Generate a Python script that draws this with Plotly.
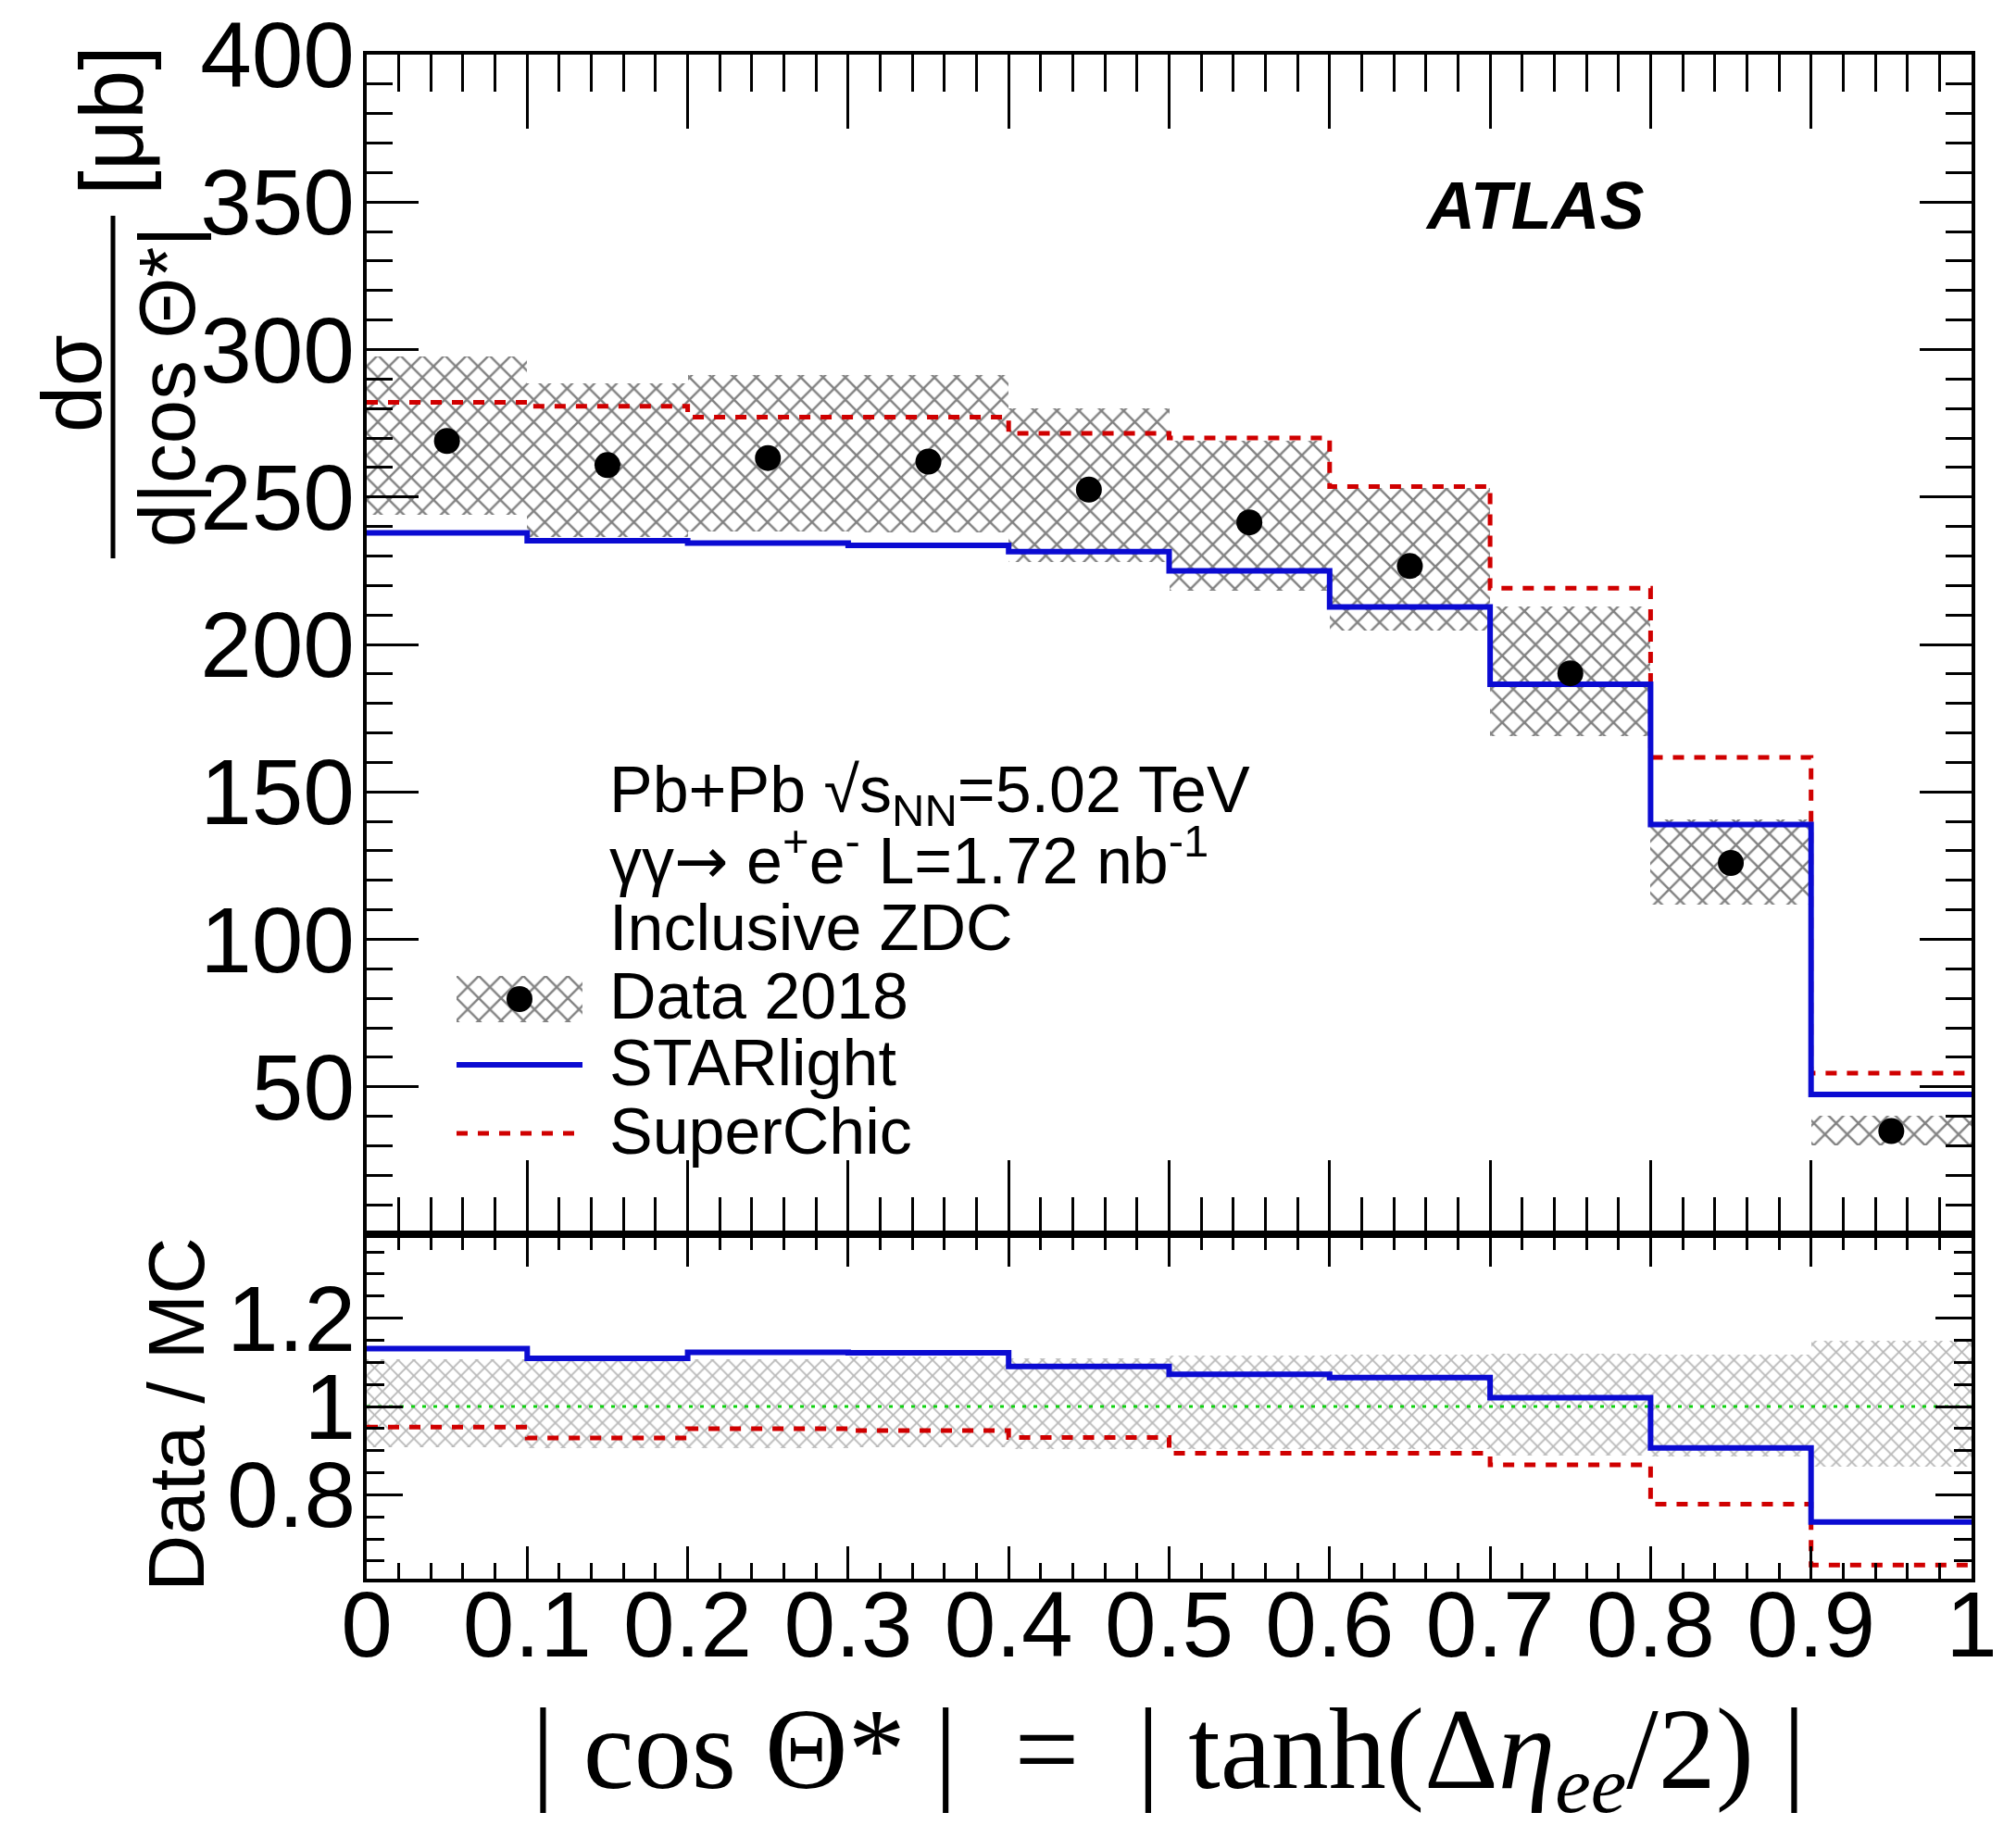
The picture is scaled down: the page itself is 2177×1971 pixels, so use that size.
import plotly.graph_objects as go

# ---- binned measurement: |cos Theta*| in ten bins of width 0.1 ----
bin_edges = [0.0, 0.1, 0.2, 0.3, 0.4, 0.5, 0.6, 0.7, 0.8, 0.9, 1.0]

# dsigma/d|cos Theta*| [mub]
data_xsec = [269.0, 260.8, 263.2, 262.0, 252.5, 241.4, 226.6, 190.2, 125.9, 35.0]
data_band_low = [244.1, 236.4, 238.2, 238.0, 228.1, 218.1, 204.7, 168.9, 111.7, 30.2]
data_band_high = [297.8, 288.6, 291.5, 291.5, 280.0, 269.0, 253.1, 213.0, 140.8, 40.2]

# generator predictions
starlight = [237.8, 235.2, 234.4, 233.6, 231.5, 225.0, 212.7, 186.5, 138.9, 47.4]
superchic = [282.1, 280.8, 277.1, 277.1, 271.6, 270.0, 253.5, 219.1, 161.7, 54.6]

# axis tick labels
upper_y_ticks = [50, 100, 150, 200, 250, 300, 350, 400]
lower_y_ticks = [0.8, 1.0, 1.2]
lower_y_ticktext = ["0.8", "1", "1.2"]
x_ticks = [0.0, 0.1, 0.2, 0.3, 0.4, 0.5, 0.6, 0.7, 0.8, 0.9, 1.0]
x_ticktext = ["0", "0.1", "0.2", "0.3", "0.4", "0.5", "0.6", "0.7", "0.8", "0.9", "1"]

legend_labels = ["Data 2018", "STARlight", "SuperChic"]
info_lines = [
    "Pb+Pb \u221as<sub>NN</sub>=5.02 TeV",
    "\u03b3\u03b3<span style=\"font-family:'DejaVu Sans'\">\u2192</span> "
    "e<sup>+</sup>e<sup>-</sup> L=1.72 nb<sup>-1</sup>",
    "Inclusive ZDC",
]

# ---- derived quantities ----
bin_centres = [(a + b) / 2 for a, b in zip(bin_edges[:-1], bin_edges[1:])]
bin_widths = [b - a for a, b in zip(bin_edges[:-1], bin_edges[1:])]
ratio_starlight = [d / m for d, m in zip(data_xsec, starlight)]
ratio_superchic = [d / m for d, m in zip(data_xsec, superchic)]
ratio_band_low = [lo / d for lo, d in zip(data_band_low, data_xsec)]
ratio_band_high = [hi / d for hi, d in zip(data_band_high, data_xsec)]


def step(vals):
    return list(vals) + [vals[-1]]


# ---- page geometry (pixels) ----
W, H = 2177, 1971


def px(x):
    return x / W


def py(y):
    return 1 - y / H


FRAME_L, FRAME_R = 396, 2129
UP_TOP, SPLIT, LOW_BOT = 59, 1333, 1705

BLUE = "#0b0bd2"
RED = "#d00000"
GREEN = "#10d010"
FONT = "Liberation Sans"
HATCH_UP = dict(shape="x", fgcolor="#828282", bgcolor="rgba(0,0,0,0)",
                size=17, solidity=0.27, fillmode="replace")
HATCH_LOW = dict(shape="x", fgcolor="#b8b8b8", bgcolor="rgba(0,0,0,0)",
                 size=12, solidity=0.28, fillmode="replace")

fig = go.Figure()

# upper panel: hatched systematic band, predictions, data points
fig.add_trace(go.Bar(
    x=bin_centres, base=data_band_low,
    y=[h - l for h, l in zip(data_band_high, data_band_low)],
    width=bin_widths, xaxis="x", yaxis="y",
    marker=dict(color="rgba(0,0,0,0)", line=dict(width=0), pattern=HATCH_UP),
    showlegend=False, hoverinfo="skip"))
fig.add_trace(go.Scatter(
    x=bin_edges, y=step(superchic), mode="lines", xaxis="x", yaxis="y",
    line=dict(shape="hv", color=RED, width=5, dash="12px,11px"),
    name=legend_labels[2], showlegend=False))
fig.add_trace(go.Scatter(
    x=bin_edges, y=step(starlight), mode="lines", xaxis="x", yaxis="y",
    line=dict(shape="hv", color=BLUE, width=6),
    name=legend_labels[1], showlegend=False))
fig.add_trace(go.Scatter(
    x=bin_centres, y=data_xsec, mode="markers", xaxis="x", yaxis="y",
    marker=dict(size=28, color="black"),
    name=legend_labels[0], showlegend=False))

# lower panel: data / MC
fig.add_trace(go.Bar(
    x=bin_centres, base=ratio_band_low,
    y=[h - l for h, l in zip(ratio_band_high, ratio_band_low)],
    width=bin_widths, xaxis="x2", yaxis="y2",
    marker=dict(color="rgba(0,0,0,0)", line=dict(width=0), pattern=HATCH_LOW),
    showlegend=False, hoverinfo="skip"))
fig.add_trace(go.Scatter(
    x=[bin_edges[0], bin_edges[-1]], y=[1, 1], mode="lines", xaxis="x2", yaxis="y2",
    line=dict(color=GREEN, width=3, dash="4px,8px"), showlegend=False, hoverinfo="skip"))
fig.add_trace(go.Scatter(
    x=bin_edges, y=step(ratio_superchic), mode="lines", xaxis="x2", yaxis="y2",
    line=dict(shape="hv", color=RED, width=5, dash="12px,11px"), showlegend=False))
fig.add_trace(go.Scatter(
    x=bin_edges, y=step(ratio_starlight), mode="lines", xaxis="x2", yaxis="y2",
    line=dict(shape="hv", color=BLUE, width=6), showlegend=False))

# legend key for the data: hatched box with a dot, on its own small hidden axes
fig.add_trace(go.Bar(
    x=[0.5], base=[0], y=[1], width=[1], xaxis="x3", yaxis="y3",
    marker=dict(color="rgba(0,0,0,0)", line=dict(width=0), pattern=HATCH_UP),
    showlegend=False, hoverinfo="skip"))
fig.add_trace(go.Scatter(
    x=[0.5], y=[0.5], mode="markers", xaxis="x3", yaxis="y3",
    marker=dict(size=28, color="black"), showlegend=False, hoverinfo="skip"))

tick_font = dict(family=FONT, size=100, color="black")
frame = dict(showline=True, linewidth=4, linecolor="black", mirror="allticks",
             showgrid=False, zeroline=False, ticks="inside", tickcolor="black",
             tickwidth=3, automargin=False)

fig.update_layout(
    width=W, height=H, autosize=False,
    margin=dict(l=0, r=0, t=0, b=0, pad=0, autoexpand=False),
    paper_bgcolor="white", plot_bgcolor="white",
    barmode="overlay", bargap=0, showlegend=False,
    xaxis=dict(domain=[px(FRAME_L), px(FRAME_R)], range=[0, 1], anchor="y",
               tickmode="linear", tick0=0, dtick=0.1, ticklen=80, showticklabels=False,
               minor=dict(ticks="inside", dtick=0.02, tick0=0, ticklen=40,
                          tickwidth=3, tickcolor="black"),
               **frame),
    yaxis=dict(domain=[py(SPLIT), py(UP_TOP)], range=[0, 400], anchor="x",
               tickmode="array", tickvals=upper_y_ticks,
               ticktext=[str(v) for v in upper_y_ticks],
               ticklen=56, tickfont=tick_font, ticklabelstandoff=-11,
               minor=dict(ticks="inside", tickmode="linear", dtick=10, tick0=0,
                          ticklen=28, tickwidth=3, tickcolor="black"),
               **frame),
    xaxis2=dict(domain=[px(FRAME_L), px(FRAME_R)], range=[0, 1], anchor="y2",
                tickmode="array", tickvals=x_ticks, ticktext=x_ticktext,
                ticklen=35, tickfont=tick_font, ticklabelstandoff=-40,
                minor=dict(ticks="inside", tickmode="linear", dtick=0.02, tick0=0,
                           ticklen=17, tickwidth=3, tickcolor="black"),
                **frame),
    yaxis2=dict(domain=[py(LOW_BOT), py(SPLIT)], range=[0.61, 1.39], anchor="x2",
                tickmode="array", tickvals=lower_y_ticks, ticktext=lower_y_ticktext,
                ticklen=39, tickfont=tick_font, ticklabelstandoff=-12,
                minor=dict(ticks="inside", tickmode="linear", dtick=0.05, tick0=0,
                           ticklen=19, tickwidth=3, tickcolor="black"),
                **frame),
    xaxis3=dict(domain=[px(493), px(629)], range=[0, 1], anchor="y3", visible=False,
                automargin=False),
    yaxis3=dict(domain=[py(1104), py(1054)], range=[0, 1], anchor="x3", visible=False,
                automargin=False),
)

annotations = []


def add_text(text, x, y, size, xanchor="left", angle=0, family=FONT):
    annotations.append(dict(
        text=text, x=px(x), y=py(y), xref="paper", yref="paper",
        xanchor=xanchor, yanchor="middle", showarrow=False, textangle=angle,
        font=dict(family=family, size=size, color="black")))


# experiment label
add_text("<b><i>ATLAS</i></b>", 1657, 222, 72, xanchor="center")

# info block and legend entries
for text, y in zip(info_lines, [858, 926, 1002]):
    add_text(text, 656, y, 70)
for text, y in zip(legend_labels, [1076, 1148, 1222]):
    add_text(text, 656, y, 70)

# upper y-axis title built as a fraction
add_text("d\u03c3", 78, 414, 90, xanchor="center", angle=-90)
add_text("d|cos \u0398*|", 180, 418, 85, xanchor="center", angle=-90)
add_text("[\u03bcb]", 120, 130, 96, xanchor="center", angle=-90)

# lower y-axis title
add_text("Data / MC", 190, 1528, 85, xanchor="center", angle=-90)

# x-axis title
add_text("| cos \u0398* |  =  | tanh(\u0394<i>\u03b7</i><sub><i>ee</i></sub>/2) |",
         1262, 1898, 124, xanchor="center", family="Liberation Serif")

fig.update_layout(annotations=annotations)

# fraction bar of the y title and legend line keys
fig.add_shape(type="line", xref="paper", yref="paper",
              x0=px(122), x1=px(122), y0=py(233), y1=py(603),
              line=dict(color="black", width=5))
fig.add_shape(type="line", xref="paper", yref="paper",
              x0=px(493), x1=px(629), y0=py(1150), y1=py(1150),
              line=dict(color=BLUE, width=6))
fig.add_shape(type="line", xref="paper", yref="paper",
              x0=px(493), x1=px(629), y0=py(1224), y1=py(1224),
              line=dict(color=RED, width=5, dash="12px,11px"))

fig.write_html("out.html")
